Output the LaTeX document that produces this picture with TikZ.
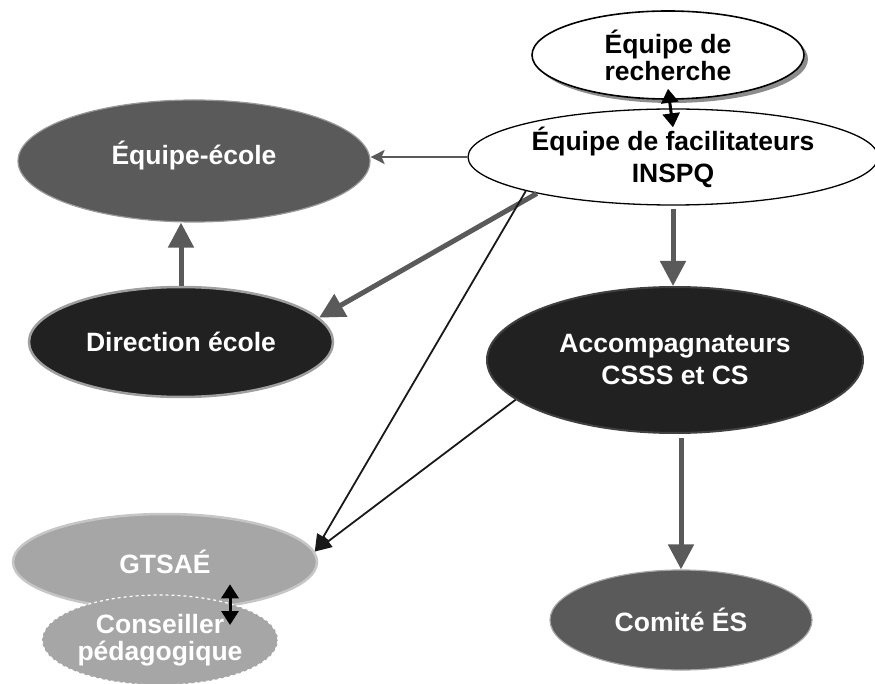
\documentclass[tikz,border=0pt]{standalone}
\usepackage{fontspec}
\setmainfont{Liberation Sans}
\usetikzlibrary{shapes.geometric,arrows.meta,shadows}

\definecolor{midgray}{HTML}{5A5A5A}
\definecolor{darkfill}{HTML}{212121}
\definecolor{lightfill}{HTML}{A6A6A6}

\tikzset{
  oval/.style={ellipse, inner sep=0pt, align=center, font=\bfseries\fontsize{26.5}{27}\selectfont},
  whiteoval/.style={oval, fill=white, draw=black, line width=1.6pt, text=black},
  midoval/.style={oval, fill=midgray, draw=gray!80, line width=1.2pt, text=white},
  darkoval/.style={oval, fill=darkfill, text=white},
  lightoval/.style={oval, fill=lightfill, text=white},
  thickarrow/.style={draw=midgray, line width=5pt, -{Triangle[length=25pt,width=25pt]}},
  thinarrow/.style={draw=black!90, line width=1.8pt, -{Triangle[length=17pt,width=14pt]}},
  grayline/.style={draw=midgray, line width=2pt, -{Stealth[length=14pt,width=14pt,inset=3pt]}},
  twoway/.style={draw=black, line width=3pt, {Triangle[length=14pt,width=17pt]}-{Triangle[length=14pt,width=17pt]}}
}

\begin{document}
\begin{tikzpicture}[x=1pt,y=-1pt]
\useasboundingbox (0,0) rectangle (875,684);

% top: research team and facilitators
\node[whiteoval, minimum width=272pt, minimum height=88pt,
      drop shadow={shadow xshift=4pt, shadow yshift=-4pt, fill=gray!90, opacity=1}]
      (rec) at (668,55) {Équipe de\\recherche};
\node[whiteoval, line width=1.3pt, minimum width=410pt, minimum height=96pt,
      font=\bfseries\fontsize{26.5}{32}\selectfont]
      (fac) at (673,157) {Équipe de facilitateurs\\INSPQ};

% school side
\node[midoval, minimum width=352pt, minimum height=122pt, text depth=17pt] (eq) at (194,161) {Équipe-école};
\node[darkoval, draw=gray!75, line width=2.5pt, minimum width=304pt, minimum height=110pt]
      (dir) at (181,342) {Direction école};

% support chain
\node[darkoval, draw=black!75, line width=2pt, minimum width=376pt, minimum height=146pt,
      font=\bfseries\fontsize{26.5}{32}\selectfont]
      (acc) at (675,360) {Accompagnateurs\\CSSS et CS};
\node[midoval, draw=gray!70, minimum width=262pt, minimum height=100pt] (com) at (681,620) {Comité ÉS};

% working group and adviser
\node[lightoval, draw=gray!45, line width=2.5pt, minimum width=304pt, minimum height=96pt]
      (gts) at (165,562) {GTSAÉ};
\node[lightoval, draw=white, dashed, dash pattern=on 3pt off 3pt, line width=1.2pt,
      minimum width=236pt, minimum height=90pt] (con) at (160,640) {Conseiller\\pédagogique};

% connectors
\draw[grayline] (fac.west) -- (fac.west -| eq.east);
\draw[thickarrow] (fac.195) -- (dir.10);
\draw[thickarrow] (dir.north) -- (dir.north |- eq.south);
\draw[thickarrow, shorten <=3pt] (fac.south) -- (fac.south |- acc.north);
\draw[thickarrow, shorten <=4pt] (acc.south -| com.north) -- (com.north);
\draw[thinarrow] (fac.193) -- (gts.4);
\draw[thinarrow] (acc.194) -- (gts.4);

\draw[twoway] ([yshift=11pt]rec.south) -- ([yshift=-19pt]fac.north);
\draw[twoway] ([xshift=65pt,yshift=27pt]gts.south) -- ([xshift=70pt,yshift=15pt]con.center);
\end{tikzpicture}
\end{document}
